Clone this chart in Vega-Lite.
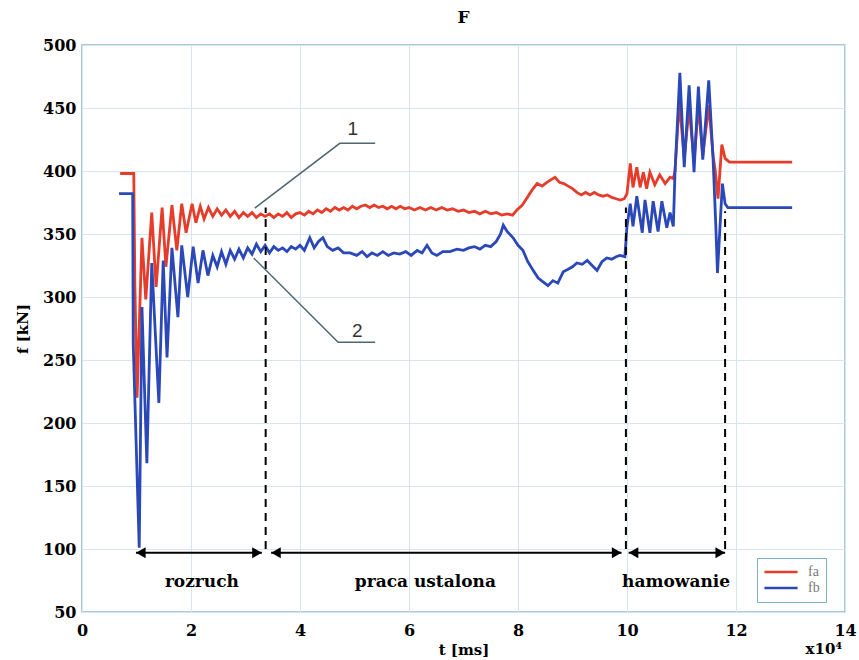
{
  "$schema": "https://vega.github.io/schema/vega-lite/v6.json",
  "width": 763,
  "height": 567,
  "autosize": {"type": "none"},
  "padding": {"left": 82, "top": 45, "right": 14, "bottom": 48},
  "background": "white",
  "title": {"text": "F", "font": "DejaVu Serif", "fontWeight": "bold", "fontSize": 17, "offset": 10, "color": "black"},
  "config": {
    "view": {"stroke": "#8fb8cc", "strokeWidth": 1.5},
    "axis": {
      "domain": false, "ticks": false, "grid": true, "gridColor": "#d6e5ee", "gridWidth": 1,
      "labelFont": "DejaVu Serif", "labelFontWeight": "bold", "labelFontSize": 16, "labelColor": "black",
      "titleFont": "DejaVu Serif", "titleFontWeight": "bold", "titleFontSize": 15, "titleColor": "black"
    },
    "legend": {
      "orient": "none", "legendX": 675, "legendY": 513, "padding": 6, "fillColor": "white", "strokeColor": "#7fb0c8",
      "symbolType": "stroke", "symbolSize": 1100, "symbolStrokeWidth": 2.5, "clipHeight": 16,
      "labelFont": "Liberation Serif", "labelFontSize": 14, "labelColor": "#7a7a7a", "rowPadding": 0, "labelOffset": 9, "title": null
    }
  },
  "datasets": {
    "series": [
      {"t": 0.70, "f": 398, "s": "fa"}, {"t": 0.95, "f": 398, "s": "fa"}, {"t": 0.97, "f": 310, "s": "fa"}, {"t": 1.01, "f": 220, "s": "fa"},
      {"t": 1.10, "f": 347, "s": "fa"}, {"t": 1.17, "f": 298, "s": "fa"}, {"t": 1.28, "f": 367, "s": "fa"}, {"t": 1.36, "f": 308, "s": "fa"},
      {"t": 1.47, "f": 371, "s": "fa"}, {"t": 1.54, "f": 324, "s": "fa"}, {"t": 1.65, "f": 373, "s": "fa"}, {"t": 1.74, "f": 337, "s": "fa"},
      {"t": 1.83, "f": 374, "s": "fa"}, {"t": 1.91, "f": 351, "s": "fa"}, {"t": 2.02, "f": 374, "s": "fa"}, {"t": 2.09, "f": 359, "s": "fa"},
      {"t": 2.17, "f": 372, "s": "fa"}, {"t": 2.24, "f": 362, "s": "fa"}, {"t": 2.32, "f": 371, "s": "fa"}, {"t": 2.40, "f": 364, "s": "fa"},
      {"t": 2.48, "f": 370, "s": "fa"}, {"t": 2.56, "f": 365, "s": "fa"}, {"t": 2.64, "f": 369, "s": "fa"}, {"t": 2.72, "f": 364, "s": "fa"},
      {"t": 2.80, "f": 368, "s": "fa"}, {"t": 2.88, "f": 363, "s": "fa"}, {"t": 2.96, "f": 367, "s": "fa"}, {"t": 3.04, "f": 364, "s": "fa"},
      {"t": 3.12, "f": 367, "s": "fa"}, {"t": 3.20, "f": 363, "s": "fa"}, {"t": 3.28, "f": 366, "s": "fa"}, {"t": 3.36, "f": 364, "s": "fa"},
      {"t": 3.44, "f": 366, "s": "fa"}, {"t": 3.52, "f": 363, "s": "fa"}, {"t": 3.60, "f": 366, "s": "fa"}, {"t": 3.68, "f": 364, "s": "fa"},
      {"t": 3.76, "f": 367, "s": "fa"}, {"t": 3.84, "f": 363, "s": "fa"}, {"t": 3.92, "f": 366, "s": "fa"}, {"t": 4.00, "f": 367, "s": "fa"},
      {"t": 4.08, "f": 365, "s": "fa"}, {"t": 4.16, "f": 368, "s": "fa"}, {"t": 4.24, "f": 366, "s": "fa"}, {"t": 4.32, "f": 369, "s": "fa"},
      {"t": 4.40, "f": 367, "s": "fa"}, {"t": 4.48, "f": 370, "s": "fa"}, {"t": 4.56, "f": 368, "s": "fa"}, {"t": 4.64, "f": 371, "s": "fa"},
      {"t": 4.72, "f": 369, "s": "fa"}, {"t": 4.80, "f": 371, "s": "fa"}, {"t": 4.88, "f": 369, "s": "fa"}, {"t": 4.96, "f": 372, "s": "fa"},
      {"t": 5.04, "f": 370, "s": "fa"}, {"t": 5.12, "f": 372, "s": "fa"}, {"t": 5.20, "f": 373, "s": "fa"}, {"t": 5.28, "f": 371, "s": "fa"},
      {"t": 5.36, "f": 373, "s": "fa"}, {"t": 5.44, "f": 371, "s": "fa"}, {"t": 5.52, "f": 372, "s": "fa"}, {"t": 5.60, "f": 370, "s": "fa"},
      {"t": 5.68, "f": 372, "s": "fa"}, {"t": 5.76, "f": 370, "s": "fa"}, {"t": 5.84, "f": 372, "s": "fa"}, {"t": 5.92, "f": 370, "s": "fa"},
      {"t": 6.00, "f": 371, "s": "fa"}, {"t": 6.10, "f": 369, "s": "fa"}, {"t": 6.20, "f": 371, "s": "fa"}, {"t": 6.30, "f": 369, "s": "fa"},
      {"t": 6.40, "f": 371, "s": "fa"}, {"t": 6.50, "f": 369, "s": "fa"}, {"t": 6.60, "f": 371, "s": "fa"}, {"t": 6.70, "f": 369, "s": "fa"},
      {"t": 6.80, "f": 370, "s": "fa"}, {"t": 6.90, "f": 368, "s": "fa"}, {"t": 7.00, "f": 369, "s": "fa"}, {"t": 7.10, "f": 367, "s": "fa"},
      {"t": 7.20, "f": 368, "s": "fa"}, {"t": 7.30, "f": 366, "s": "fa"}, {"t": 7.40, "f": 368, "s": "fa"}, {"t": 7.50, "f": 366, "s": "fa"},
      {"t": 7.60, "f": 367, "s": "fa"}, {"t": 7.70, "f": 365, "s": "fa"}, {"t": 7.80, "f": 366, "s": "fa"}, {"t": 7.90, "f": 365, "s": "fa"},
      {"t": 7.98, "f": 369, "s": "fa"}, {"t": 8.08, "f": 373, "s": "fa"}, {"t": 8.17, "f": 379, "s": "fa"}, {"t": 8.26, "f": 385, "s": "fa"},
      {"t": 8.35, "f": 390, "s": "fa"}, {"t": 8.44, "f": 388, "s": "fa"}, {"t": 8.53, "f": 391, "s": "fa"}, {"t": 8.60, "f": 393, "s": "fa"},
      {"t": 8.68, "f": 395, "s": "fa"}, {"t": 8.76, "f": 391, "s": "fa"}, {"t": 8.84, "f": 390, "s": "fa"}, {"t": 8.92, "f": 388, "s": "fa"},
      {"t": 9.00, "f": 386, "s": "fa"}, {"t": 9.08, "f": 383, "s": "fa"}, {"t": 9.16, "f": 381, "s": "fa"}, {"t": 9.24, "f": 383, "s": "fa"},
      {"t": 9.32, "f": 381, "s": "fa"}, {"t": 9.40, "f": 383, "s": "fa"}, {"t": 9.48, "f": 381, "s": "fa"}, {"t": 9.56, "f": 380, "s": "fa"},
      {"t": 9.64, "f": 381, "s": "fa"}, {"t": 9.72, "f": 379, "s": "fa"}, {"t": 9.80, "f": 378, "s": "fa"}, {"t": 9.88, "f": 377, "s": "fa"},
      {"t": 9.95, "f": 378, "s": "fa"}, {"t": 10.00, "f": 382, "s": "fa"}, {"t": 10.06, "f": 406, "s": "fa"}, {"t": 10.11, "f": 387, "s": "fa"},
      {"t": 10.18, "f": 403, "s": "fa"}, {"t": 10.24, "f": 387, "s": "fa"}, {"t": 10.30, "f": 399, "s": "fa"}, {"t": 10.36, "f": 386, "s": "fa"},
      {"t": 10.42, "f": 399, "s": "fa"}, {"t": 10.51, "f": 389, "s": "fa"}, {"t": 10.60, "f": 397, "s": "fa"}, {"t": 10.70, "f": 390, "s": "fa"},
      {"t": 10.79, "f": 395, "s": "fa"}, {"t": 10.85, "f": 394, "s": "fa"}, {"t": 10.88, "f": 400, "s": "fa"}, {"t": 10.96, "f": 455, "s": "fa"},
      {"t": 11.05, "f": 410, "s": "fa"}, {"t": 11.14, "f": 450, "s": "fa"}, {"t": 11.23, "f": 408, "s": "fa"}, {"t": 11.31, "f": 452, "s": "fa"},
      {"t": 11.39, "f": 412, "s": "fa"}, {"t": 11.50, "f": 452, "s": "fa"}, {"t": 11.58, "f": 412, "s": "fa"}, {"t": 11.62, "f": 400, "s": "fa"},
      {"t": 11.67, "f": 378, "s": "fa"}, {"t": 11.74, "f": 421, "s": "fa"}, {"t": 11.80, "f": 410, "s": "fa"}, {"t": 11.88, "f": 407, "s": "fa"},
      {"t": 13.03, "f": 407, "s": "fa"},

      {"t": 0.68, "f": 382, "s": "fb"}, {"t": 0.93, "f": 382, "s": "fb"}, {"t": 0.94, "f": 263, "s": "fb"}, {"t": 1.05, "f": 101, "s": "fb"},
      {"t": 1.10, "f": 292, "s": "fb"}, {"t": 1.19, "f": 168, "s": "fb"}, {"t": 1.28, "f": 327, "s": "fb"}, {"t": 1.41, "f": 216, "s": "fb"},
      {"t": 1.49, "f": 329, "s": "fb"}, {"t": 1.56, "f": 252, "s": "fb"}, {"t": 1.65, "f": 339, "s": "fb"}, {"t": 1.76, "f": 284, "s": "fb"},
      {"t": 1.83, "f": 341, "s": "fb"}, {"t": 1.94, "f": 300, "s": "fb"}, {"t": 2.04, "f": 340, "s": "fb"}, {"t": 2.13, "f": 311, "s": "fb"},
      {"t": 2.22, "f": 337, "s": "fb"}, {"t": 2.31, "f": 317, "s": "fb"}, {"t": 2.40, "f": 333, "s": "fb"}, {"t": 2.48, "f": 324, "s": "fb"},
      {"t": 2.56, "f": 336, "s": "fb"}, {"t": 2.64, "f": 326, "s": "fb"}, {"t": 2.72, "f": 337, "s": "fb"}, {"t": 2.80, "f": 330, "s": "fb"},
      {"t": 2.88, "f": 338, "s": "fb"}, {"t": 2.96, "f": 331, "s": "fb"}, {"t": 3.04, "f": 339, "s": "fb"}, {"t": 3.12, "f": 334, "s": "fb"},
      {"t": 3.20, "f": 342, "s": "fb"}, {"t": 3.28, "f": 336, "s": "fb"}, {"t": 3.36, "f": 341, "s": "fb"}, {"t": 3.44, "f": 335, "s": "fb"},
      {"t": 3.52, "f": 340, "s": "fb"}, {"t": 3.60, "f": 337, "s": "fb"}, {"t": 3.68, "f": 339, "s": "fb"}, {"t": 3.76, "f": 336, "s": "fb"},
      {"t": 3.84, "f": 340, "s": "fb"}, {"t": 3.92, "f": 338, "s": "fb"}, {"t": 4.00, "f": 341, "s": "fb"}, {"t": 4.08, "f": 337, "s": "fb"},
      {"t": 4.18, "f": 347, "s": "fb"}, {"t": 4.26, "f": 339, "s": "fb"}, {"t": 4.34, "f": 344, "s": "fb"}, {"t": 4.42, "f": 347, "s": "fb"},
      {"t": 4.50, "f": 340, "s": "fb"}, {"t": 4.60, "f": 337, "s": "fb"}, {"t": 4.70, "f": 339, "s": "fb"}, {"t": 4.80, "f": 335, "s": "fb"},
      {"t": 4.92, "f": 335, "s": "fb"}, {"t": 5.04, "f": 333, "s": "fb"}, {"t": 5.14, "f": 336, "s": "fb"}, {"t": 5.23, "f": 332, "s": "fb"},
      {"t": 5.32, "f": 335, "s": "fb"}, {"t": 5.42, "f": 333, "s": "fb"}, {"t": 5.52, "f": 336, "s": "fb"}, {"t": 5.62, "f": 333, "s": "fb"},
      {"t": 5.72, "f": 335, "s": "fb"}, {"t": 5.83, "f": 334, "s": "fb"}, {"t": 5.94, "f": 336, "s": "fb"}, {"t": 6.04, "f": 333, "s": "fb"},
      {"t": 6.15, "f": 337, "s": "fb"}, {"t": 6.24, "f": 335, "s": "fb"}, {"t": 6.33, "f": 341, "s": "fb"}, {"t": 6.42, "f": 335, "s": "fb"},
      {"t": 6.51, "f": 333, "s": "fb"}, {"t": 6.62, "f": 336, "s": "fb"}, {"t": 6.75, "f": 336, "s": "fb"}, {"t": 6.88, "f": 338, "s": "fb"},
      {"t": 7.00, "f": 337, "s": "fb"}, {"t": 7.10, "f": 339, "s": "fb"}, {"t": 7.20, "f": 340, "s": "fb"}, {"t": 7.30, "f": 338, "s": "fb"},
      {"t": 7.40, "f": 341, "s": "fb"}, {"t": 7.50, "f": 340, "s": "fb"}, {"t": 7.60, "f": 344, "s": "fb"}, {"t": 7.68, "f": 350, "s": "fb"},
      {"t": 7.73, "f": 357, "s": "fb"}, {"t": 7.80, "f": 352, "s": "fb"}, {"t": 7.91, "f": 347, "s": "fb"}, {"t": 8.00, "f": 341, "s": "fb"},
      {"t": 8.09, "f": 337, "s": "fb"}, {"t": 8.18, "f": 328, "s": "fb"}, {"t": 8.28, "f": 321, "s": "fb"}, {"t": 8.37, "f": 315, "s": "fb"},
      {"t": 8.46, "f": 312, "s": "fb"}, {"t": 8.55, "f": 309, "s": "fb"}, {"t": 8.64, "f": 313, "s": "fb"}, {"t": 8.73, "f": 311, "s": "fb"},
      {"t": 8.83, "f": 320, "s": "fb"}, {"t": 8.92, "f": 322, "s": "fb"}, {"t": 9.00, "f": 324, "s": "fb"}, {"t": 9.08, "f": 327, "s": "fb"},
      {"t": 9.18, "f": 326, "s": "fb"}, {"t": 9.27, "f": 329, "s": "fb"}, {"t": 9.36, "f": 325, "s": "fb"}, {"t": 9.45, "f": 321, "s": "fb"},
      {"t": 9.54, "f": 328, "s": "fb"}, {"t": 9.63, "f": 331, "s": "fb"}, {"t": 9.72, "f": 330, "s": "fb"}, {"t": 9.80, "f": 332, "s": "fb"},
      {"t": 9.87, "f": 333, "s": "fb"}, {"t": 9.96, "f": 332, "s": "fb"}, {"t": 10.00, "f": 356, "s": "fb"}, {"t": 10.06, "f": 374, "s": "fb"},
      {"t": 10.11, "f": 356, "s": "fb"}, {"t": 10.18, "f": 380, "s": "fb"}, {"t": 10.28, "f": 351, "s": "fb"}, {"t": 10.33, "f": 377, "s": "fb"},
      {"t": 10.42, "f": 351, "s": "fb"}, {"t": 10.48, "f": 376, "s": "fb"}, {"t": 10.57, "f": 352, "s": "fb"}, {"t": 10.64, "f": 376, "s": "fb"},
      {"t": 10.73, "f": 355, "s": "fb"}, {"t": 10.79, "f": 367, "s": "fb"}, {"t": 10.85, "f": 356, "s": "fb"}, {"t": 10.88, "f": 398, "s": "fb"},
      {"t": 10.97, "f": 478, "s": "fb"}, {"t": 11.05, "f": 403, "s": "fb"}, {"t": 11.14, "f": 468, "s": "fb"}, {"t": 11.23, "f": 399, "s": "fb"},
      {"t": 11.31, "f": 467, "s": "fb"}, {"t": 11.39, "f": 409, "s": "fb"}, {"t": 11.50, "f": 472, "s": "fb"}, {"t": 11.58, "f": 409, "s": "fb"},
      {"t": 11.63, "f": 356, "s": "fb"}, {"t": 11.66, "f": 319, "s": "fb"}, {"t": 11.75, "f": 390, "s": "fb"}, {"t": 11.80, "f": 374, "s": "fb"},
      {"t": 11.85, "f": 371, "s": "fb"}, {"t": 13.03, "f": 371, "s": "fb"}
    ],
    "dashes": [
      {"t": 3.37, "f0": 100, "f1": 371},
      {"t": 9.98, "f0": 100, "f1": 371},
      {"t": 11.80, "f0": 100, "f1": 368}
    ],
    "arrows": [
      {"a": 0.99, "b": 3.30, "y": 97},
      {"a": 3.47, "b": 9.90, "y": 97},
      {"a": 10.03, "b": 11.80, "y": 97}
    ],
    "heads": [
      {"t": 1.08, "f": 97, "shape": "triangle-left"},
      {"t": 3.21, "f": 97, "shape": "triangle-right"},
      {"t": 3.56, "f": 97, "shape": "triangle-left"},
      {"t": 9.81, "f": 97, "shape": "triangle-right"},
      {"t": 10.12, "f": 97, "shape": "triangle-left"},
      {"t": 11.71, "f": 97, "shape": "triangle-right"}
    ],
    "leaders": [
      {"t": 3.17, "f": 370.6, "g": "1", "o": 1}, {"t": 4.73, "f": 422, "g": "1", "o": 2}, {"t": 5.38, "f": 422, "g": "1", "o": 3},
      {"t": 3.15, "f": 331, "g": "2", "o": 1}, {"t": 4.70, "f": 264, "g": "2", "o": 2}, {"t": 5.38, "f": 264, "g": "2", "o": 3}
    ],
    "phases": [
      {"t": 2.2, "f": 74, "label": "rozruch"},
      {"t": 6.3, "f": 74, "label": "praca ustalona"},
      {"t": 10.9, "f": 74, "label": "hamowanie"}
    ],
    "nums": [
      {"t": 4.97, "f": 433, "label": "1"},
      {"t": 5.05, "f": 273, "label": "2"}
    ],
    "mult": [
      {"t": 14, "f": 21, "label": "x10⁴"}
    ]
  },
  "layer": [
    {
      "data": {"name": "series"},
      "mark": {"type": "line", "strokeWidth": 2.8, "clip": true},
      "encoding": {
        "x": {"field": "t", "type": "quantitative", "scale": {"domain": [0, 14], "nice": false}, "axis": {"values": [0, 2, 4, 6, 8, 10, 12, 14], "format": "d", "title": "t [ms]", "labelPadding": 10, "titlePadding": 4, "labelFlush": false}},
        "y": {"field": "f", "type": "quantitative", "scale": {"domain": [50, 500], "nice": false, "zero": false}, "axis": {"values": [50, 100, 150, 200, 250, 300, 350, 400, 450, 500], "format": "d", "title": "f [kN]", "labelPadding": 6, "titlePadding": 12}},
        "color": {"field": "s", "type": "nominal", "scale": {"domain": ["fa", "fb"], "range": ["#e63c2a", "#2b48b8"]}, "legend": {"labelExpr": "datum.label + '     '"}}
      }
    },
    {
      "data": {"name": "dashes"},
      "mark": {"type": "rule", "color": "black", "strokeWidth": 2, "strokeDash": [8, 6]},
      "encoding": {
        "x": {"field": "t", "type": "quantitative"},
        "y": {"field": "f0", "type": "quantitative"},
        "y2": {"field": "f1"}
      }
    },
    {
      "data": {"name": "arrows"},
      "mark": {"type": "rule", "color": "black", "strokeWidth": 2},
      "encoding": {
        "x": {"field": "a", "type": "quantitative"},
        "x2": {"field": "b"},
        "y": {"field": "y", "type": "quantitative"}
      }
    },
    {
      "data": {"name": "heads"},
      "mark": {"type": "point", "filled": true, "color": "black", "size": 120, "opacity": 1},
      "encoding": {
        "x": {"field": "t", "type": "quantitative"},
        "y": {"field": "f", "type": "quantitative"},
        "shape": {"field": "shape", "type": "nominal", "scale": null}
      }
    },
    {
      "data": {"name": "leaders"},
      "mark": {"type": "line", "color": "#4d6773", "strokeWidth": 1.5},
      "encoding": {
        "x": {"field": "t", "type": "quantitative"},
        "y": {"field": "f", "type": "quantitative"},
        "detail": {"field": "g"},
        "order": {"field": "o"}
      }
    },
    {
      "data": {"name": "phases"},
      "mark": {"type": "text", "font": "DejaVu Serif", "fontWeight": "bold", "fontSize": 17, "color": "black", "align": "center", "baseline": "middle"},
      "encoding": {
        "x": {"field": "t", "type": "quantitative"},
        "y": {"field": "f", "type": "quantitative"},
        "text": {"field": "label"}
      }
    },
    {
      "data": {"name": "nums"},
      "mark": {"type": "text", "font": "Liberation Sans", "fontSize": 19, "color": "#333333", "align": "center", "baseline": "middle"},
      "encoding": {
        "x": {"field": "t", "type": "quantitative"},
        "y": {"field": "f", "type": "quantitative"},
        "text": {"field": "label"}
      }
    },
    {
      "data": {"name": "mult"},
      "mark": {"type": "text", "font": "DejaVu Serif", "fontWeight": "bold", "fontSize": 15, "color": "black", "align": "right", "baseline": "middle", "dx": -3},
      "encoding": {
        "x": {"field": "t", "type": "quantitative"},
        "y": {"field": "f", "type": "quantitative"},
        "text": {"field": "label"}
      }
    }
  ]
}
